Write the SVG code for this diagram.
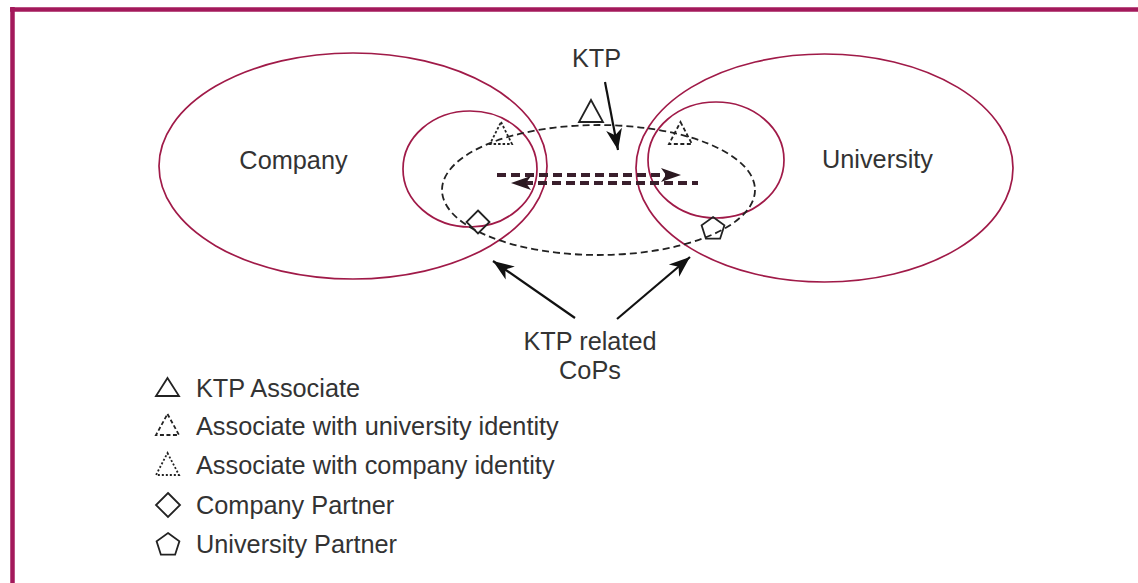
<svg xmlns="http://www.w3.org/2000/svg" width="1138" height="583" viewBox="0 0 1138 583">
<defs>
<style>
.t{font-family:"Liberation Sans",Arial,sans-serif;font-size:25.3px;fill:#333;}
.ring{fill:none;stroke:#a01a48;stroke-width:1.7;}
.sym{fill:none;stroke:#222;stroke-width:1.8;}
.cop{fill:none;stroke:#222;stroke-width:1.8;stroke-dasharray:7,4;}
.arr{stroke:#111;stroke-width:2.2;fill:none;}
.dbl{stroke:#3a1f2c;stroke-width:4;stroke-dasharray:9,5;fill:none;}
</style>
<marker id="ah" markerUnits="userSpaceOnUse" markerWidth="26" markerHeight="18" viewBox="-22 -9 24 18" refX="0" refY="0" orient="auto">
<path d="M0,0 L-21,-8 L-15,0 L-21,8 z" fill="#111"/>
</marker>
</defs>
<rect x="0" y="0" width="1138" height="583" fill="#fff"/>
<g id="frame">
<line x1="12.5" y1="7" x2="12.5" y2="583" stroke="#a3195b" stroke-width="4.5"/>
<line x1="10" y1="9.5" x2="1138" y2="9.5" stroke="#a3195b" stroke-width="4.5"/>
</g>
<g id="company">
<ellipse class="ring" cx="353" cy="166" rx="194" ry="113"/>
<text class="t" x="293.5" y="169" text-anchor="middle">Company</text>
</g>
<g id="company-inner">
<ellipse class="ring" cx="470" cy="169" rx="67" ry="58"/>
</g>
<g id="university">
<ellipse class="ring" cx="824.5" cy="168" rx="188.5" ry="114"/>
<text class="t" x="877.5" y="168" text-anchor="middle">University</text>
</g>
<g id="university-inner">
<ellipse class="ring" cx="716" cy="160" rx="68" ry="58"/>
</g>
<g id="ktp-cops">
<ellipse class="cop" cx="598.5" cy="190" rx="156.5" ry="65"/>
</g>
<g id="ktp-associate">
<polygon class="sym" points="591,100 603,122 579,122"/>
</g>
<g id="associate-company">
<polygon class="sym" points="501,122 512,144 490,144" stroke-dasharray="2.5,2"/>
</g>
<g id="associate-university">
<polygon class="sym" points="680.5,122 692,144 669,144" stroke-dasharray="4,2.5"/>
</g>
<g id="company-partner">
<polygon class="sym" points="478,210.5 489.5,222 478,233.5 466.5,222" fill="#fff"/>
</g>
<g id="university-partner">
<polygon class="sym" points="713,217 724.4,225.3 720.1,238.7 705.9,238.7 701.6,225.3" fill="#fff"/>
</g>
<g id="ktp-label">
<text class="t" x="596.5" y="67" text-anchor="middle">KTP</text>
</g>
<g id="cops-label">
<text class="t" x="590" y="350" text-anchor="middle">KTP related</text>
<text class="t" x="590" y="379" text-anchor="middle">CoPs</text>
</g>
<g id="connectors">
<line class="arr" x1="605" y1="82" x2="618" y2="150" marker-end="url(#ah)"/>
<line class="arr" x1="575" y1="318" x2="493" y2="261" marker-end="url(#ah)"/>
<line class="arr" x1="617" y1="319" x2="690" y2="257" marker-end="url(#ah)"/>
<line class="dbl" x1="497" y1="175" x2="668" y2="175"/>
<path d="M681,175 L661,168 L666,175 L661,182 z" fill="#2a1820"/>
<line class="dbl" x1="524" y1="183" x2="698" y2="183"/>
<path d="M511,183 L531,176 L526,183 L531,190 z" fill="#2a1820"/>
</g>
<g id="legend">
<polygon class="sym" points="167.5,378 179,396 156,396"/>
<text class="t" x="196" y="397">KTP Associate</text>
<polygon class="sym" points="167.5,414 179,435 156,435" stroke-dasharray="4,2.5"/>
<text class="t" x="196" y="435">Associate with university identity</text>
<polygon class="sym" points="167.5,453 179,475 156,475" stroke-dasharray="2,2"/>
<text class="t" x="196" y="474">Associate with company identity</text>
<polygon class="sym" points="168,493 180,505 168,517 156,505"/>
<text class="t" x="196" y="514">Company Partner</text>
<polygon class="sym" points="168,533 179.4,541.3 175.1,554.7 160.9,554.7 156.6,541.3"/>
<text class="t" x="196" y="553">University Partner</text>
</g>
</svg>
